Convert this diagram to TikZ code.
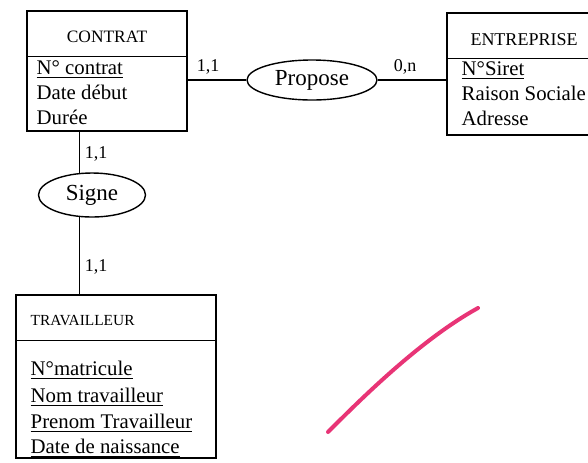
\documentclass[tikz,border=0pt]{standalone}
\usepackage{fontspec}
\setmainfont{Liberation Serif}
\usepackage{tikz}
\usetikzlibrary{positioning,shapes.geometric}
\definecolor{rose}{RGB}{232,52,118}

\begin{document}
\begin{tikzpicture}[x=0.5pt,y=-0.5pt,line width=0.7pt,
  ent/.style={draw,rectangle,inner sep=0pt},
  rel/.style={draw,ellipse,inner sep=0pt,font=\fontsize{11.5}{13}\selectfont},
  ttl/.style={anchor=base,inner sep=0pt},
  att/.style={anchor=base west,inner sep=0pt,font=\fontsize{10.4}{12}\selectfont},
  card/.style={font=\fontsize{9}{10}\selectfont,inner sep=2.5pt},
  trait/.style={draw=rose,line width=2pt,line cap=round}]
\useasboundingbox (0,0) rectangle (588,462);
% entites
\node[ent,minimum width=80pt,minimum height=60pt] (contrat) at (107,71) {};
\node[ttl,font=\fontsize{8.7}{10}\selectfont] (tcontrat) at (107,42) {CONTRAT};
\draw ([yshift=-23pt]contrat.north west) -- ([yshift=-23pt]contrat.north east);
\node[att] (a1) at (36,74) {\underline{N° contrat}};
\node[att] (a2) at (36,99) {Date début};
\node[att] (a3) at (36,124) {Durée};

\node[ent,minimum width=75pt,minimum height=61pt] (entreprise) at (522,74) {};
\node[ttl,font=\fontsize{9}{10}\selectfont] (tentreprise) at (524,45) {ENTREPRISE};
\draw ([yshift=-23pt]entreprise.north west) -- ([yshift=-23pt]entreprise.north east);
\node[att] (b1) at (461,75) {\underline{N°Siret}};
\node[att] (b2) at (461,100) {Raison Sociale};
\node[att] (b3) at (461,125) {Adresse};

\node[ent,minimum width=100pt,minimum height=81.5pt] (travailleur) at (116,376.5) {};
\node[ttl,anchor=base west,font=\fontsize{7.7}{9}\selectfont] (ttravailleur) at (30,325) {TRAVAILLEUR};
\draw ([yshift=-23pt]travailleur.north west) -- ([yshift=-23pt]travailleur.north east);
\node[att] (c1) at (30,375) {\underline{N°matricule}};
\node[att] (c2) at (30,402) {\underline{Nom travailleur}};
\node[att] (c3) at (30,428) {\underline{Prenom Travailleur}};
\node[att] (c4) at (30,453) {\underline{Date de naissance}};

% associations
\node[rel,minimum width=65pt,minimum height=20pt] (propose) at (312,80) {Propose};
\node[rel,minimum width=53.5pt,minimum height=22pt] (signe) at (92,195) {Signe};

\draw (contrat.east |- propose.west) -- node[card,pos=.35,above] (k1) {1,1} (propose.west);
\draw (propose.east) -- node[card,pos=.4,above] (k2) {0,n} (propose.east -| entreprise.west);
\draw (signe.120 |- contrat.south) -- node[card,pos=.55,right] (k3) {1,1} (signe.120);
\draw (signe.240) -- node[card,pos=.65,right] (k4) {1,1} (signe.240 |- travailleur.north);

% trait au feutre
\draw[trait] (328,432) .. controls (360,400) and (420,340) .. (478,308);
\end{tikzpicture}
\end{document}
